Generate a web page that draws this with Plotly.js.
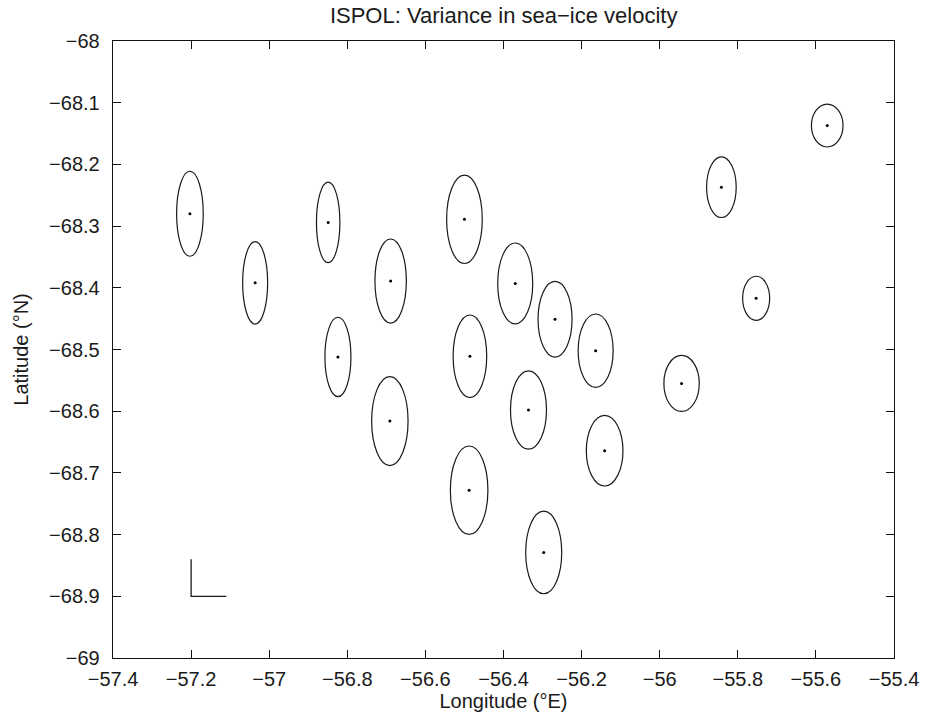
<!DOCTYPE html>
<html>
<head>
<meta charset="utf-8">
<script src="https://cdn.plot.ly/plotly-3.0.1.min.js"></script>
<style>html,body{margin:0;padding:0;background:#fff;}#chart{width:925px;height:721px;}</style>
</head>
<body>
<div id="chart"></div>
<script>
// Buoy positions (centre of each variance ellipse)
const lon = [-57.203, -57.036, -56.849, -56.689, -56.824, -56.691,
             -55.571, -55.842, -55.753, -55.944,
             -56.500, -56.370, -56.268, -56.486, -56.164,
             -56.336, -56.141, -56.488, -56.297];
const lat = [-68.280, -68.392, -68.294, -68.389, -68.512, -68.616,
             -68.137, -68.237, -68.417, -68.555,
             -68.289, -68.393, -68.451, -68.511, -68.502,
             -68.598, -68.664, -68.728, -68.829];
// Semi-axes of the ellipses (degrees longitude / latitude)
const semiLon = [0.0341, 0.0320, 0.0300, 0.0402, 0.0333, 0.0466,
                 0.0405, 0.0379, 0.0346, 0.0453,
                 0.0456, 0.0448, 0.0435, 0.0430, 0.0448,
                 0.0461, 0.0469, 0.0481, 0.0461];
const semiLat = [0.0689, 0.0668, 0.0653, 0.0681, 0.0643, 0.0721,
                 0.0348, 0.0491, 0.0357, 0.0454,
                 0.0716, 0.0656, 0.0613, 0.0669, 0.0595,
                 0.0635, 0.0572, 0.0716, 0.0669];
// Scale bar
const scaleX = [-57.2, -57.2, -57.11];
const scaleY = [-68.84, -68.9, -68.9];
// Tick labels
const xTickVals = [-57.4, -57.2, -57, -56.8, -56.6, -56.4, -56.2, -56, -55.8, -55.6, -55.4];
const xTickText = ["\u221257.4", "\u221257.2", "\u221257", "\u221256.8", "\u221256.6", "\u221256.4", "\u221256.2", "\u221256", "\u221255.8", "\u221255.6", "\u221255.4"];
const yTickVals = [-68, -68.1, -68.2, -68.3, -68.4, -68.5, -68.6, -68.7, -68.8, -68.9, -69];
const yTickText = ["\u221268", "\u221268.1", "\u221268.2", "\u221268.3", "\u221268.4", "\u221268.5", "\u221268.6", "\u221268.7", "\u221268.8", "\u221268.9", "\u221269"];

const FONT = "'Liberation Sans', Arial, Helvetica, sans-serif";
const TXT = '#1a1a1a';

const shapes = lon.map((x, i) => ({
  type: 'circle', xref: 'x', yref: 'y',
  x0: x - semiLon[i], x1: x + semiLon[i],
  y0: lat[i] - semiLat[i], y1: lat[i] + semiLat[i],
  line: {color: '#1a1a1a', width: 1.2},
  fillcolor: 'rgba(0,0,0,0)'
}));

const traces = [
  {x: lon, y: lat, type: 'scatter', mode: 'markers',
   marker: {color: '#000', size: 3}, hoverinfo: 'x+y'},
  {x: scaleX, y: scaleY, type: 'scatter', mode: 'lines',
   line: {color: '#1a1a1a', width: 1.3}, hoverinfo: 'skip'}
];

const axisCommon = {
  showgrid: false, zeroline: false, showline: true, linecolor: '#111', linewidth: 1.3,
  mirror: 'ticks', ticks: 'inside', ticklen: 8, tickwidth: 1, tickcolor: '#111',
  tickfont: {family: FONT, size: 20, color: TXT}
};

const layout = {
  width: 925, height: 721,
  margin: {l: 113, r: 31, t: 41, b: 63},
  paper_bgcolor: '#fff', plot_bgcolor: '#fff',
  showlegend: false,
  title: {text: 'ISPOL: Variance in sea\u2212ice velocity', x: 0.5445, xanchor: 'center',
          y: 0.979, yanchor: 'middle', font: {family: FONT, size: 22, color: TXT}},
  xaxis: Object.assign({}, axisCommon, {
    range: [-57.4, -55.4], tickvals: xTickVals, ticktext: xTickText,
    ticklabelstandoff: 3,
    title: {text: 'Longitude (\u00b0E)', font: {family: FONT, size: 20, color: TXT}, standoff: 4}
  }),
  yaxis: Object.assign({}, axisCommon, {
    range: [-69, -68], tickvals: yTickVals, ticktext: yTickText,
    ticklabelstandoff: 8,
    title: {text: 'Latitude (\u00b0N)', font: {family: FONT, size: 20, color: TXT}, standoff: 15}
  }),
  shapes: shapes
};

Plotly.newPlot('chart', traces, layout, {displayModeBar: false, staticPlot: true});
</script>
</body>
</html>
